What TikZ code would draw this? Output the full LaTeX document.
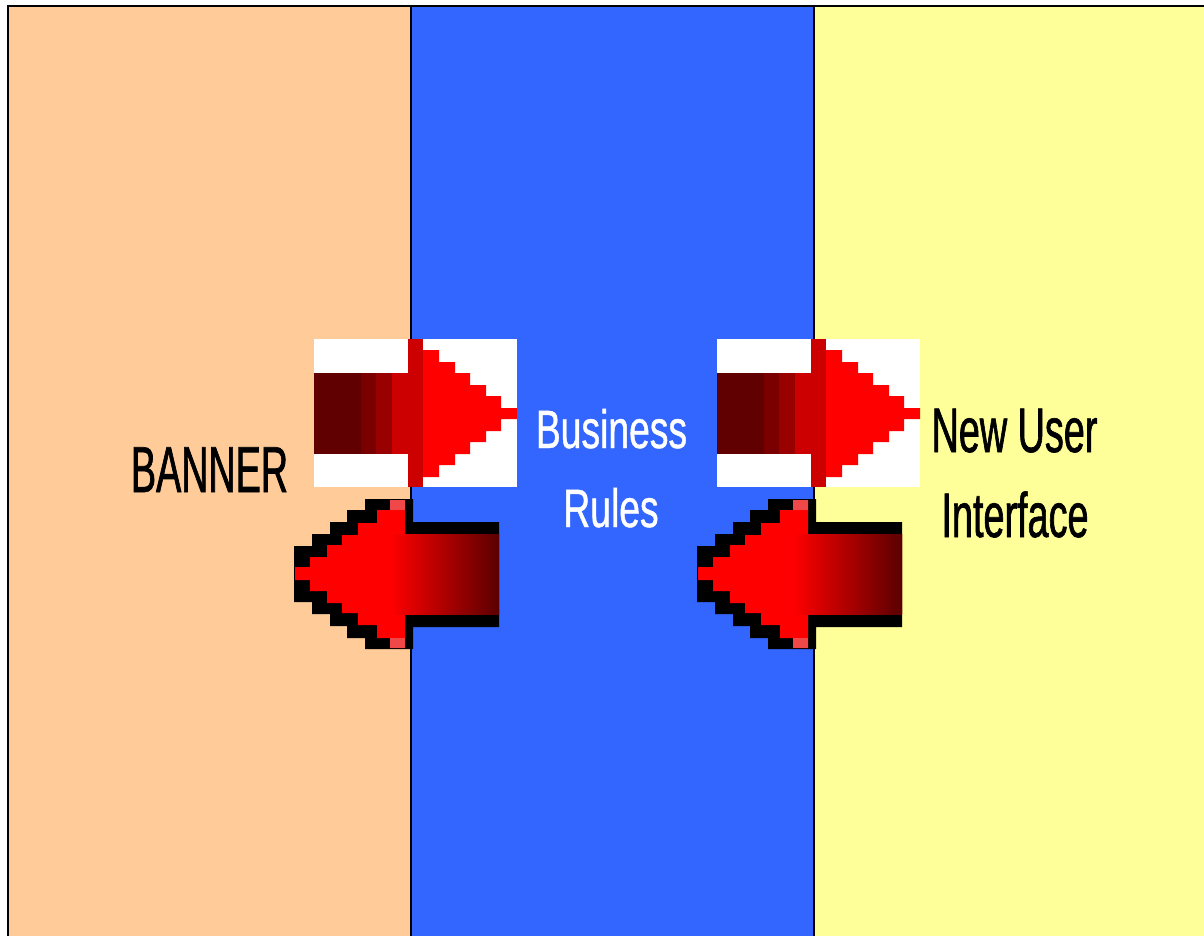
\documentclass[tikz,border=0pt]{standalone}
\usepackage{fontspec}
\setmainfont{Liberation Sans}
\newfontfamily\bannerfont[FakeStretch=0.58,FakeBold=1]{Liberation Sans}
\newfontfamily\bizfont[FakeStretch=0.69,FakeBold=0.8]{Liberation Sans}
\newfontfamily\nuifont[FakeStretch=0.6,FakeBold=1]{Liberation Sans}
\definecolor{peach}{HTML}{FFCC99}
\definecolor{bizblue}{HTML}{3366FF}
\definecolor{yel}{HTML}{FFFF99}
\definecolor{shA}{HTML}{600000}
\definecolor{shB}{HTML}{7A0000}
\definecolor{shC}{HTML}{990000}
\definecolor{shD}{HTML}{CC0000}
\definecolor{darkend}{HTML}{5A0000}
\definecolor{pinkbar}{HTML}{F04848}
\tikzset{
  lbl/.style={anchor=base, inner sep=0pt, outer sep=0pt},
  colline/.style={draw=black, line width=1.3pt},
}
\begin{document}
\begin{tikzpicture}[x=1pt,y=-1pt]
\useasboundingbox (0,0) rectangle (1204,935);
\begin{scope}
  \clip (0,0) rectangle (1204,935);
  \fill[peach] (8,6) rectangle (411,945);
  \fill[bizblue] (411,6) rectangle (814,945);
  \fill[yel] (814,6) rectangle (1215,945);
  \draw[colline, line width=1.6pt] (8,945) -- (8,6) -- (1215,6);
  \draw[colline] (411,6) -- (411,945);
  \draw[colline] (814,6) -- (814,945);
\end{scope}

\foreach \dx in {0,403} {
  \begin{scope}[xshift=\dx]
    % right-pointing stepped arrow on white box
    \fill[white] (314,339) rectangle (517,487);
    \fill[shA] (314,373) rectangle (361,454);
    \fill[shB] (361,373) rectangle (376,454);
    \fill[shC] (376,373) rectangle (392,454);
    \fill[shD] (392,373) rectangle (408,454);
    \fill[shD] (408,339) rectangle (423,487);
    \fill[red] (423,350) -- (439,350) -- (439,362) -- (455,362) -- (455,373) -- (470,373)
      -- (470,385) -- (486,385) -- (486,396) -- (501,396) -- (501,408) -- (517,408)
      -- (517,419) -- (501,419) -- (501,431) -- (486,431) -- (486,442) -- (470,442)
      -- (470,454) -- (455,454) -- (455,465) -- (439,465) -- (439,477) -- (423,477) -- cycle;
    % left-pointing stepped arrow with black outline
    \fill[black] (499,522) -- (413,522) -- (413,499) -- (365,499) -- (365,510) -- (347,510)
      -- (347,522) -- (330,522) -- (330,534) -- (312,534) -- (312,546) -- (294,546)
      -- (294,602) -- (312,602) -- (312,614) -- (330,614) -- (330,626) -- (347,626)
      -- (347,638) -- (365,638) -- (365,649) -- (413,649) -- (413,627) -- (499,627) -- cycle;
    \fill[red] (499,534) -- (405,534) -- (405,500) -- (390,500) -- (390,510) -- (377,510)
      -- (377,523) -- (358,523) -- (358,535) -- (342,535) -- (342,545) -- (327,545)
      -- (327,557) -- (310,557) -- (310,567) -- (295,567) -- (295,580) -- (310,580)
      -- (310,591) -- (327,591) -- (327,603) -- (342,603) -- (342,613) -- (358,613)
      -- (358,625) -- (377,625) -- (377,638) -- (390,638) -- (390,648) -- (405,648)
      -- (405,614) -- (499,614) -- cycle;
    \fill[pinkbar] (390,500) rectangle (405,510);
    \fill[pinkbar] (390,638) rectangle (405,648);
    \shade[left color=red, right color=darkend] (390,534) rectangle (499,614);
  \end{scope}
}

\node[lbl, font={\bannerfont\fontsize{65}{78}\selectfont}] (banner) at (209.5,492) {BANNER};
\node[lbl, text=white, font={\bizfont\fontsize{54}{65}\selectfont}] (biz1) at (611.5,448) {Business};
\node[lbl, text=white, font={\bizfont\fontsize{54}{65}\selectfont}] (biz2) at (611,527) {Rules};
\node[lbl, font={\nuifont\fontsize{63}{76}\selectfont}] (nui1) at (1014.5,452) {New User};
\node[lbl, font={\nuifont\fontsize{63}{76}\selectfont}] (nui2) at (1015,537) {Interface};
\end{tikzpicture}
\end{document}
